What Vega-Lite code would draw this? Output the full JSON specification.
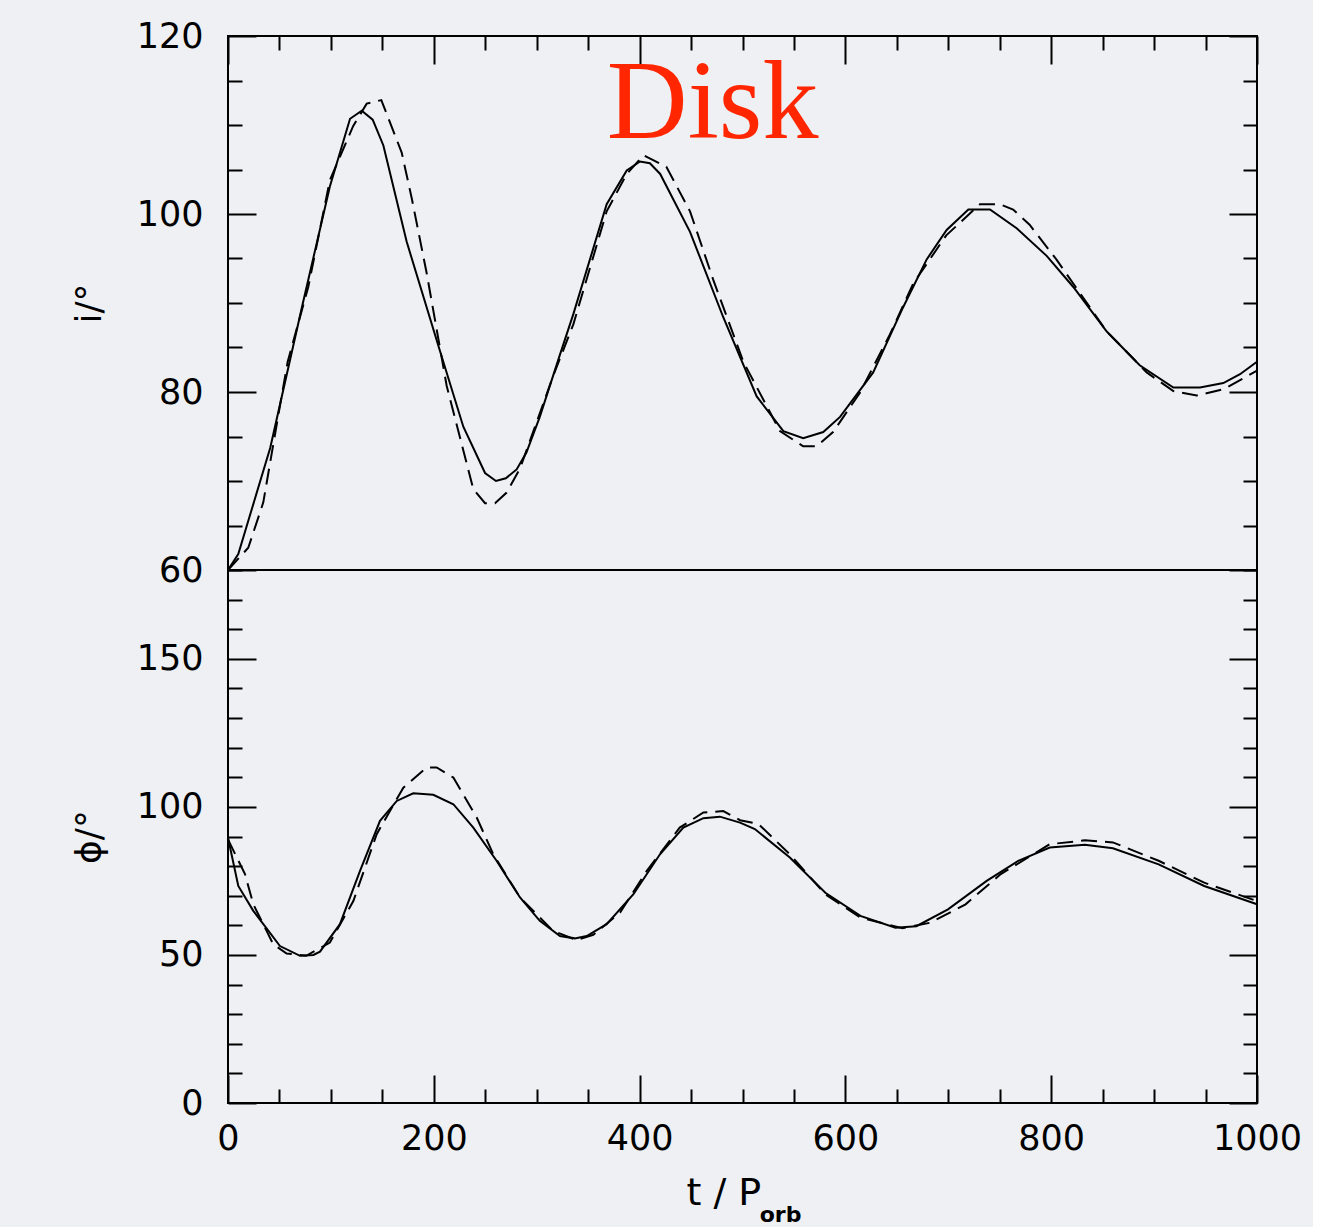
{
  "$schema": "https://vega.github.io/schema/vega-lite/v6.json",
  "background": "#eef0f4",
  "padding": {"left": 70, "top": 18, "right": 10, "bottom": 5},
  "spacing": 0,
  "bounds": "flush",
  "config": {
    "view": {"stroke": "black", "strokeWidth": 2},
    "axis": {
      "labelFont": "DejaVu Sans", "labelFontSize": 35, "labelColor": "black",
      "titleFont": "DejaVu Sans", "titleFontSize": 36, "titleFontWeight": "normal", "titleColor": "black",
      "tickColor": "black", "tickWidth": 2, "domain": false, "grid": false,
      "labelOverlap": false, "labelFlush": false
    }
  },
  "datasets": {
    "i_solid": [
      {"t": 0, "v": 60}, {"t": 10, "v": 61.8}, {"t": 41, "v": 73.7}, {"t": 72, "v": 89.6}, {"t": 99, "v": 103.1},
      {"t": 118.6, "v": 110.7}, {"t": 130, "v": 111.6}, {"t": 140.6, "v": 110.6}, {"t": 151, "v": 107.7},
      {"t": 173.6, "v": 96.9}, {"t": 206, "v": 84.6}, {"t": 228.7, "v": 76.1}, {"t": 249.8, "v": 70.9},
      {"t": 260.4, "v": 70.0}, {"t": 270, "v": 70.3}, {"t": 280.5, "v": 71.3}, {"t": 290, "v": 73.2},
      {"t": 303, "v": 77.2}, {"t": 322.6, "v": 84.2}, {"t": 335.6, "v": 88.75}, {"t": 368, "v": 101.1},
      {"t": 387.5, "v": 104.9}, {"t": 400.4, "v": 105.9}, {"t": 410, "v": 105.7}, {"t": 420, "v": 104.5},
      {"t": 449, "v": 98.0}, {"t": 481.3, "v": 88.4}, {"t": 513.8, "v": 79.5}, {"t": 539.7, "v": 75.6},
      {"t": 559, "v": 74.8}, {"t": 578.5, "v": 75.5}, {"t": 594.8, "v": 77.2}, {"t": 627, "v": 82.2},
      {"t": 656, "v": 89.5}, {"t": 679, "v": 94.9}, {"t": 698.4, "v": 98.2}, {"t": 719.5, "v": 100.5},
      {"t": 740.5, "v": 100.5}, {"t": 766.4, "v": 98.4}, {"t": 795.6, "v": 95.3}, {"t": 821.5, "v": 91.8},
      {"t": 854, "v": 86.8}, {"t": 886, "v": 83.0}, {"t": 918.7, "v": 80.5}, {"t": 944.6, "v": 80.5},
      {"t": 967.3, "v": 81.0}, {"t": 983.5, "v": 82.0}, {"t": 1000, "v": 83.4}
    ],
    "i_dashed": [
      {"t": 0, "v": 60}, {"t": 19.7, "v": 62.5}, {"t": 34.3, "v": 67.6}, {"t": 48.6, "v": 77.2}, {"t": 58, "v": 83.4},
      {"t": 78, "v": 91.8}, {"t": 99, "v": 103.8}, {"t": 121.7, "v": 109.9}, {"t": 134.8, "v": 112.4},
      {"t": 149, "v": 112.8}, {"t": 168.8, "v": 106.9}, {"t": 178.5, "v": 101.8}, {"t": 193, "v": 93.4},
      {"t": 212.5, "v": 80.7}, {"t": 238.4, "v": 69.1}, {"t": 249.8, "v": 67.5}, {"t": 259.5, "v": 67.5},
      {"t": 270.8, "v": 68.7}, {"t": 283.8, "v": 71.4}, {"t": 316, "v": 81.8}, {"t": 335.6, "v": 87.6},
      {"t": 368, "v": 100.3}, {"t": 387.5, "v": 104.5}, {"t": 403.8, "v": 106.6}, {"t": 426, "v": 105.3},
      {"t": 449, "v": 100.3}, {"t": 471.6, "v": 92.6}, {"t": 500.8, "v": 83.4}, {"t": 536.4, "v": 75.6},
      {"t": 559, "v": 73.9}, {"t": 572, "v": 73.9}, {"t": 588, "v": 75.5}, {"t": 614, "v": 79.9},
      {"t": 643, "v": 86.4}, {"t": 666, "v": 92.2}, {"t": 698, "v": 97.6}, {"t": 730.8, "v": 101.1},
      {"t": 750, "v": 101.1}, {"t": 763, "v": 100.5}, {"t": 779, "v": 98.8}, {"t": 805, "v": 94.9},
      {"t": 828, "v": 91.1}, {"t": 854, "v": 86.8}, {"t": 892.8, "v": 82.2}, {"t": 918.7, "v": 80.1},
      {"t": 941.4, "v": 79.6}, {"t": 967.3, "v": 80.3}, {"t": 1000, "v": 82.4}
    ],
    "p_solid": [
      {"t": 0, "v": 89.6}, {"t": 10, "v": 73.3}, {"t": 24.6, "v": 64.9}, {"t": 50.5, "v": 53}, {"t": 70, "v": 49.7},
      {"t": 83, "v": 50}, {"t": 89.4, "v": 51.1}, {"t": 108.8, "v": 60.4}, {"t": 128.3, "v": 78.4},
      {"t": 147.7, "v": 95.3}, {"t": 164, "v": 102}, {"t": 180, "v": 104.6}, {"t": 199.5, "v": 104.1},
      {"t": 219, "v": 100.9}, {"t": 238.4, "v": 93}, {"t": 261, "v": 81.8}, {"t": 283.8, "v": 69.4},
      {"t": 303, "v": 61.5}, {"t": 322.6, "v": 56.4}, {"t": 337, "v": 55.6}, {"t": 348.6, "v": 56.4},
      {"t": 368, "v": 60.4}, {"t": 394, "v": 70.5}, {"t": 419.8, "v": 84}, {"t": 442.5, "v": 93},
      {"t": 462, "v": 96.2}, {"t": 478, "v": 96.7}, {"t": 497.6, "v": 94.7}, {"t": 512, "v": 92.5},
      {"t": 546, "v": 82.9}, {"t": 580.5, "v": 71}, {"t": 614.6, "v": 63.2}, {"t": 648.6, "v": 59.2},
      {"t": 669, "v": 59.7}, {"t": 699.7, "v": 65.4}, {"t": 737.3, "v": 75}, {"t": 768, "v": 81.8},
      {"t": 798.6, "v": 86.3}, {"t": 832.7, "v": 87.2}, {"t": 860, "v": 86}, {"t": 904.4, "v": 80.6},
      {"t": 948.7, "v": 73.3}, {"t": 1000, "v": 67.1}
    ],
    "p_dashed": [
      {"t": 0, "v": 89}, {"t": 16.5, "v": 77.3}, {"t": 24.6, "v": 67.1}, {"t": 44, "v": 53.6}, {"t": 57, "v": 50.5},
      {"t": 76, "v": 49.7}, {"t": 99, "v": 54.2}, {"t": 121.8, "v": 68.2}, {"t": 144.5, "v": 90.8},
      {"t": 170.4, "v": 106.5}, {"t": 193, "v": 113.3}, {"t": 202.8, "v": 113.3}, {"t": 219, "v": 109.9},
      {"t": 241.7, "v": 96.4}, {"t": 257.8, "v": 84}, {"t": 283.8, "v": 69.4}, {"t": 316, "v": 58.1},
      {"t": 338.8, "v": 55}, {"t": 355, "v": 56.8}, {"t": 381, "v": 64.3}, {"t": 407, "v": 78.4},
      {"t": 439, "v": 93}, {"t": 462, "v": 98.1}, {"t": 481.3, "v": 98.6}, {"t": 497.6, "v": 95.5},
      {"t": 515.6, "v": 94.2}, {"t": 546, "v": 84}, {"t": 580.5, "v": 70.5}, {"t": 614.6, "v": 62.6},
      {"t": 655.5, "v": 59}, {"t": 682.7, "v": 60.9}, {"t": 716.8, "v": 67.1}, {"t": 751, "v": 77.3},
      {"t": 798.6, "v": 87.4}, {"t": 832.7, "v": 88.7}, {"t": 860, "v": 88}, {"t": 904.4, "v": 81.8},
      {"t": 948.7, "v": 74.4}, {"t": 1000, "v": 68.2}
    ]
  },
  "vconcat": [
    {
      "width": 1029, "height": 534,
      "resolve": {"axis": {"y": "independent"}},
      "layer": [
        {
          "data": {"name": "i_solid"},
          "mark": {"type": "line", "color": "black", "strokeWidth": 2},
          "encoding": {
            "x": {"field": "t", "type": "quantitative", "scale": {"domain": [0, 1000], "nice": false, "zero": false},
              "axis": {"orient": "top", "values": [0,50,100,150,200,250,300,350,400,450,500,550,600,650,700,750,800,850,900,950,1000], "labels": false, "title": null,
                "tickSize": {"condition": {"test": "datum.value % 200 === 0", "value": -28}, "value": -14}}},
            "y": {"field": "v", "type": "quantitative", "scale": {"domain": [60, 120], "nice": false, "zero": false},
              "axis": {"orient": "left", "values": [60,65,70,75,80,85,90,95,100,105,110,115,120],
                "labelExpr": "datum.value % 20 === 0 ? datum.label : ''", "title": "i/°", "labelPadding": 53, "titlePadding": 28,
                "tickSize": {"condition": {"test": "datum.value % 20 === 0", "value": -28}, "value": -14}}}
          }
        },
        {
          "data": {"name": "i_dashed"},
          "mark": {"type": "line", "color": "black", "strokeWidth": 2, "strokeDash": [16, 8]},
          "encoding": {
            "x": {"field": "t", "type": "quantitative", "scale": {"domain": [0, 1000], "nice": false, "zero": false},
              "axis": {"orient": "top", "values": [0,50,100,150,200,250,300,350,400,450,500,550,600,650,700,750,800,850,900,950,1000], "labels": false, "title": null,
                "tickSize": {"condition": {"test": "datum.value % 200 === 0", "value": -28}, "value": -14}}},
            "y": {"field": "v", "type": "quantitative", "scale": {"domain": [60, 120], "nice": false, "zero": false},
              "axis": {"orient": "right", "values": [60,65,70,75,80,85,90,95,100,105,110,115,120], "labels": false, "title": null,
                "tickSize": {"condition": {"test": "datum.value % 20 === 0", "value": -28}, "value": -14}}}
          }
        },
        {
          "data": {"values": [{"t": 471, "v": 108.5, "label": "Disk"}]},
          "mark": {"type": "text", "font": "Liberation Serif", "fontSize": 112, "color": "#ff2600", "align": "center", "baseline": "alphabetic"},
          "encoding": {
            "x": {"field": "t", "type": "quantitative", "scale": {"domain": [0, 1000], "nice": false, "zero": false},
              "axis": {"orient": "top", "values": [0,50,100,150,200,250,300,350,400,450,500,550,600,650,700,750,800,850,900,950,1000], "labels": false, "title": null,
                "tickSize": {"condition": {"test": "datum.value % 200 === 0", "value": -28}, "value": -14}}},
            "y": {"field": "v", "type": "quantitative", "scale": {"domain": [60, 120], "nice": false, "zero": false}, "axis": null},
            "text": {"field": "label"}
          }
        }
      ]
    },
    {
      "width": 1029, "height": 533,
      "resolve": {"axis": {"y": "independent"}},
      "layer": [
        {
          "data": {"name": "p_solid"},
          "mark": {"type": "line", "color": "black", "strokeWidth": 2},
          "encoding": {
            "x": {"field": "t", "type": "quantitative", "scale": {"domain": [0, 1000], "nice": false, "zero": false},
              "axis": {"orient": "bottom", "values": [0,50,100,150,200,250,300,350,400,450,500,550,600,650,700,750,800,850,900,950,1000],
                "format": "d", "labelExpr": "datum.value % 200 === 0 ? datum.label : ''", "title": "t / P", "titleFontSize": 38, "labelPadding": 46, "titlePadding": 4,
                "titleX": 458, "titleAlign": "left",
                "tickSize": {"condition": {"test": "datum.value % 200 === 0", "value": -28}, "value": -14}}},
            "y": {"field": "v", "type": "quantitative", "scale": {"domain": [0, 180], "nice": false, "zero": false},
              "axis": {"orient": "left", "values": [0,10,20,30,40,50,60,70,80,90,100,110,120,130,140,150,160,170,180],
                "labelExpr": "datum.value % 50 === 0 ? datum.label : ''", "title": "ϕ/°", "labelPadding": 53, "titlePadding": 28,
                "tickSize": {"condition": {"test": "datum.value % 50 === 0", "value": -28}, "value": -14}}}
          }
        },
        {
          "data": {"name": "p_dashed"},
          "mark": {"type": "line", "color": "black", "strokeWidth": 2, "strokeDash": [16, 8]},
          "encoding": {
            "x": {"field": "t", "type": "quantitative", "scale": {"domain": [0, 1000], "nice": false, "zero": false},
              "axis": {"orient": "bottom", "values": [0,50,100,150,200,250,300,350,400,450,500,550,600,650,700,750,800,850,900,950,1000],
                "format": "d", "labelExpr": "datum.value % 200 === 0 ? datum.label : ''", "title": "t / P", "titleFontSize": 38, "labelPadding": 46, "titlePadding": 4,
                "titleX": 458, "titleAlign": "left",
                "tickSize": {"condition": {"test": "datum.value % 200 === 0", "value": -28}, "value": -14}}},
            "y": {"field": "v", "type": "quantitative", "scale": {"domain": [0, 180], "nice": false, "zero": false},
              "axis": {"orient": "right", "values": [0,10,20,30,40,50,60,70,80,90,100,110,120,130,140,150,160,170,180], "labels": false, "title": null,
                "tickSize": {"condition": {"test": "datum.value % 50 === 0", "value": -28}, "value": -14}}}
          }
        },
        {
          "data": {"values": [{"t": 537, "v": 0, "label": "orb"}]},
          "mark": {"type": "text", "font": "DejaVu Sans", "fontSize": 22, "fontWeight": "bold", "color": "black", "align": "center", "baseline": "alphabetic", "dy": 119},
          "encoding": {
            "x": {"field": "t", "type": "quantitative", "scale": {"domain": [0, 1000], "nice": false, "zero": false},
              "axis": {"orient": "bottom", "values": [0,50,100,150,200,250,300,350,400,450,500,550,600,650,700,750,800,850,900,950,1000],
                "format": "d", "labelExpr": "datum.value % 200 === 0 ? datum.label : ''", "title": "t / P", "titleFontSize": 38, "labelPadding": 46, "titlePadding": 4,
                "titleX": 458, "titleAlign": "left",
                "tickSize": {"condition": {"test": "datum.value % 200 === 0", "value": -28}, "value": -14}}},
            "y": {"field": "v", "type": "quantitative", "scale": {"domain": [0, 180], "nice": false, "zero": false}, "axis": null},
            "text": {"field": "label"}
          }
        }
      ]
    }
  ]
}
